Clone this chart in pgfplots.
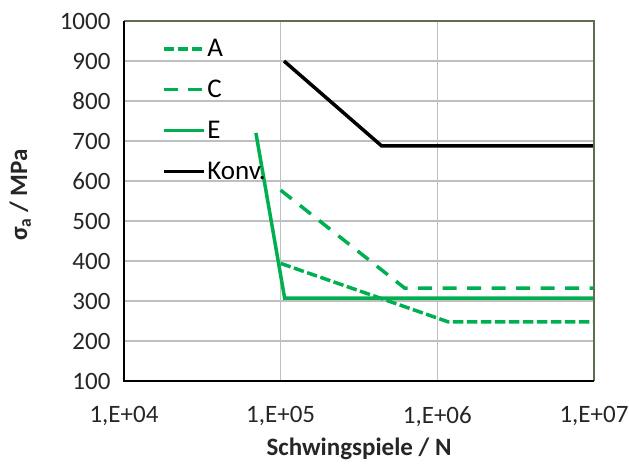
\documentclass[border=0pt]{standalone}
\usepackage{fontspec}
\setmainfont{Carlito}
\usepackage{pgfplots}
\pgfplotsset{compat=1.18}

\definecolor{xlgreen}{RGB}{0,176,80}
\definecolor{gridgray}{RGB}{191,191,191}
\definecolor{frameol}{RGB}{95,110,80}

\begin{document}
\begin{tikzpicture}
\path[use as bounding box] (0,0) rectangle (629pt,467pt);
\begin{axis}[
    at={(124pt,86pt)}, anchor=south west,
    scale only axis, width=470pt, height=360pt,
    xmode=log, xmin=1e4, xmax=1e7,
    ymin=100, ymax=1000,
    xtick={1e4,1e5,1e6,1e7},
    xticklabels={{1,E+04},{1,E+05},{1,E+06},{1,E+07}},
    ytick={100,200,...,1000},
    minor xtick={},
    grid=major,
    major grid style={gridgray, line width=1.3pt},
    axis line style={draw=none},
    tick style={draw=none},
    ticklabel style={font=\fontsize{25}{30}\selectfont, color=black!85},
    /pgf/number format/assume math mode=true,
    yticklabel style={/pgf/number format/1000 sep={}, xshift=-10pt},
    xticklabel style={yshift=-22pt},
    xlabel={\textbf{Schwingspiele / N}},
    ylabel={\textbf{σ\textsubscript{a} / MPa}},
    label style={font=\fontsize{25}{30}\selectfont, color=black!85},
    xlabel style={yshift=-4pt},
    ylabel style={yshift=22pt, xshift=6pt},
    legend style={at={(0.08,0.955)}, anchor=north west, draw=none, fill=none,
        font=\fontsize{27}{30}\selectfont, row sep=18pt, inner sep=0pt},
    legend cell align=left,
    legend image code/.code={\draw[#1] (0pt,0pt) -- (40pt,0pt);},
    clip=false,
]
\addplot[xlgreen, line width=3.5pt, dash pattern=on 10.5pt off 3.5pt] coordinates {
    (1.0e5,394) (1.17e6,248) (1e7,248)
};
\addlegendentry{A}
\addplot[xlgreen, line width=3.5pt, dash pattern=on 14pt off 10.5pt] coordinates {
    (1.0e5,577) (6.2e5,332) (1e7,332)
};
\addlegendentry{C}
\addplot[xlgreen, line width=3.5pt] coordinates {
    (6.95e4,720) (1.06e5,307) (1e7,307)
};
\addlegendentry{E}
\addplot[black, line width=3.5pt] coordinates {
    (1.05e5,900) (4.4e5,688) (1e7,688)
};
\addlegendentry{Konv.}
\draw[frameol, line width=1.2pt] (rel axis cs:0,1) -- (rel axis cs:1,1) -- (rel axis cs:1,0);
\draw[black, line width=1.2pt] (rel axis cs:0,1) -- (rel axis cs:0,0) -- (rel axis cs:1,0);
\end{axis}
\end{tikzpicture}
\end{document}
